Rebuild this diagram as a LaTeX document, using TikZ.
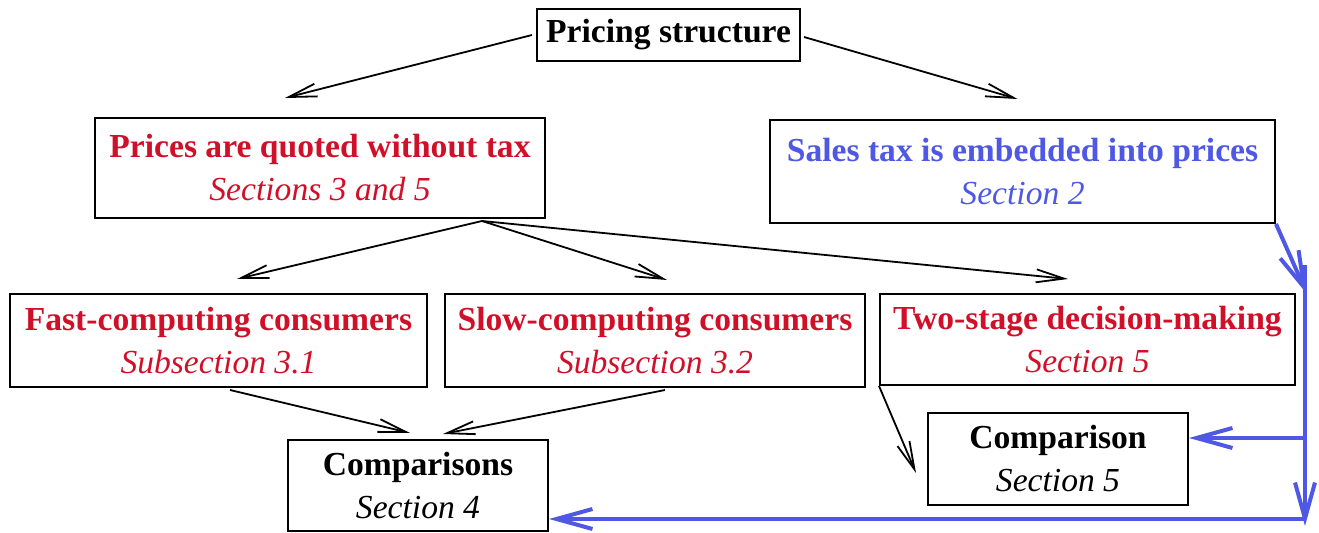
\documentclass[tikz,border=0pt]{standalone}
\usepackage{fontspec}
\setmainfont{Liberation Serif}
\usetikzlibrary{arrows.meta,calc}
\definecolor{myred}{RGB}{208,16,40}
\definecolor{myblue}{RGB}{78,88,228}
\begin{document}
\begin{tikzpicture}[x=0.5pt,y=-0.5pt,
  box/.style={draw, line width=1pt, align=center, inner sep=0pt,
    font=\fontsize{16.8}{21.5}\selectfont\bfseries},
  redtext/.style={text=myred},
  bluetext/.style={text=myblue},
  arr/.style={line width=0.9pt, -{Straight Barb[length=14pt,width=6.5pt]}},
  barr/.style={myblue, line width=2pt, -{Straight Barb[length=18pt,width=10pt]}},
]
\useasboundingbox (0,0) rectangle (1319,533);

\node[box, minimum width=131.5pt, minimum height=26pt] (ps) at (668.5,35) {Pricing structure};
\node[box, redtext, minimum width=225pt, minimum height=50pt] (pq) at (320,168)
  {Prices are quoted without tax\\{\mdseries\itshape Sections 3 and 5}};
\node[box, bluetext, minimum width=252.5pt, minimum height=51.5pt] (st) at (1022.5,171.5)
  {Sales tax is embedded into prices\\{\mdseries\itshape Section 2}};
\node[box, redtext, minimum width=208.5pt, minimum height=46.5pt] (fc) at (218.5,340.5)
  {Fast-computing consumers\\{\mdseries\itshape Subsection 3.1}};
\node[box, redtext, minimum width=210pt, minimum height=46.5pt] (sc) at (655,340.5)
  {Slow-computing consumers\\{\mdseries\itshape Subsection 3.2}};
\node[box, redtext, minimum width=207.5pt, minimum height=45.5pt] (ts) at (1087.5,339.5)
  {Two-stage decision-making\\{\mdseries\itshape Section 5}};
\node[box, minimum width=130pt, minimum height=45.5pt] (cs) at (418,485.5)
  {Comparisons\\{\mdseries\itshape Section 4}};
\node[box, minimum width=130pt, minimum height=46pt] (cm) at (1058,459)
  {Comparison\\{\mdseries\itshape Section 5}};

% black connectors
\draw[arr] ($(ps.west)+(-4,0)$) -- ($(pq.north)+(-35,-19)$);
\draw[arr] ($(ps.east)+(3,2)$) -- ($(st.north)+(-5,-20)$);
\draw[arr] ($(pq.south)+(162,2)$) -- ($(fc.north)+(18.5,-14)$);
\draw[arr] ($(pq.south)+(162,2)$) -- ($(sc.north)+(12,-13)$);
\draw[arr] ($(pq.south)+(162,2)$) -- ($(ts.north)+(-19.5,-14)$);
\draw[arr] ($(fc.south)+(11.5,2)$) -- ($(cs.north)+(-8,-6)$);
\draw[arr] ($(sc.south)+(10,2)$) -- ($(cs.north)+(25,-5)$);
\draw[arr] (ts.south west) -- ($(cm.west)+(-11,14)$);

% blue connectors
\coordinate (vtop) at (1305,265);
\coordinate (vbot) at (1305,526);
\coordinate (h1) at (1305,438);
\coordinate (h2) at (1305,519);
\draw[barr] (st.south east) -- (1307,294);
\draw[barr] (vtop) -- (vbot);
\draw[barr] (h1) -- (h1 -| cm.east);
\draw[barr] (h2) -- (h2 -| cs.east);
\end{tikzpicture}
\end{document}
